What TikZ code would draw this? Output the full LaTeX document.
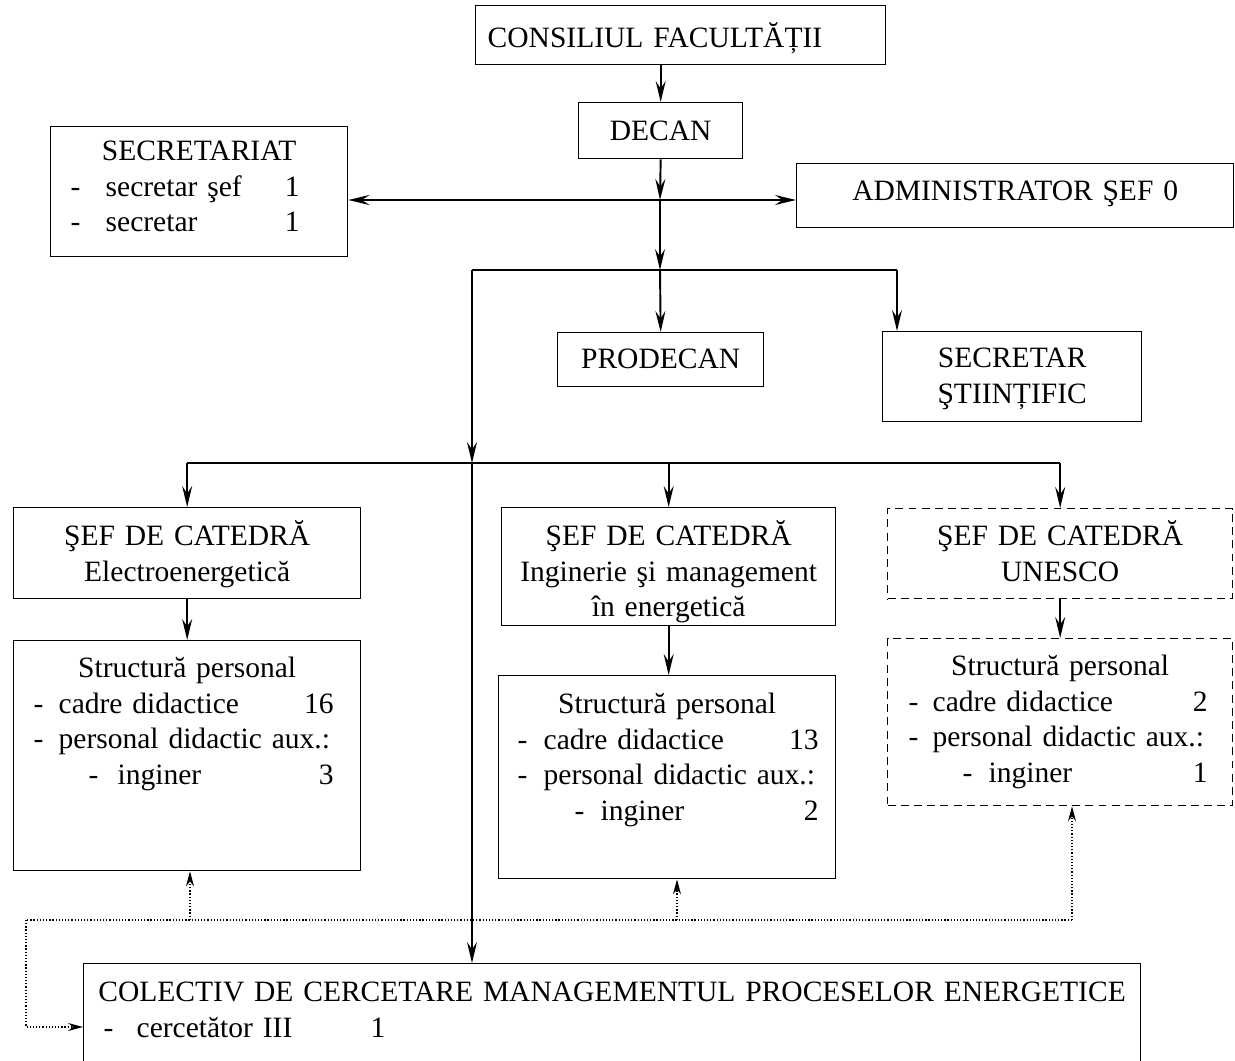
\documentclass[tikz,border=0pt]{standalone}
\usepackage{fontspec}
\setmainfont{Liberation Serif}
\usetikzlibrary{arrows.meta}

% one line of a staff list: indent, dash box, label, number, right pad
\newcommand{\lrow}[5]{\hspace*{#1}\makebox[#2][l]{-}#3\hfill#4\hspace*{#5}\null}

\begin{document}
\begin{tikzpicture}[x=0.02cm,y=-0.02cm,
  >={Stealth[length=4.2mm,width=2mm,inset=1.5mm]},
  box/.style={draw,line width=0.8pt,inner sep=0pt,anchor=north west,align=center,
    font=\fontsize{16.8}{20.2}\selectfont},
  dbox/.style={box,dash pattern=on 4.5pt off 3pt},
  conn/.style={->,line width=1.1pt},
  bus/.style={line width=1pt},
  dot/.style={line width=0.8pt,dash pattern=on 0.7pt off 1.1pt},
  dotarr/.style={dot,-{Stealth[length=3mm,width=1.6mm,inset=1mm]}}]
\useasboundingbox (0,0) rectangle (1235,1061);
\clip (0,0) rectangle (1235,1061);

% conducere
\node[box,align=left,text width=8.2cm,text height=0.84cm,text depth=0.34cm] (consiliu) at (475,5) {\hspace*{0.24cm}CONSILIUL FACULTĂȚII};
\node[box,text width=3.28cm,text height=0.76cm,text depth=0.36cm] (decan) at (578,102) {DECAN};
\node[box,text width=5.94cm,text height=0.68cm,text depth=1.92cm] (secretariat) at (50,126) {SECRETARIAT\\
  \lrow{0.4cm}{0.7cm}{secretar şef}{1}{0.96cm}\\
  \lrow{0.4cm}{0.7cm}{secretar}{1}{0.96cm}};
\node[box,text width=8.74cm,text height=0.74cm,text depth=0.54cm] (admin) at (796,163) {ADMINISTRATOR ŞEF 0};
\node[box,text width=4.12cm,text height=0.72cm,text depth=0.36cm] (prodecan) at (557,332) {PRODECAN};
\node[box,text width=5.18cm,text height=0.72cm,text depth=1.08cm] (secstiint) at (882,331) {SECRETAR\\ŞTIINȚIFIC};

% catedre
\node[box,text width=6.94cm,text height=0.76cm,text depth=1.06cm] (sefelectro) at (13,507) {ŞEF DE CATEDRĂ\\Electroenergetică};
\node[box,text width=6.68cm,text height=0.76cm,text depth=1.6cm] (sefingin) at (501,507) {ŞEF DE CATEDRĂ\\Inginerie şi management\\în energetică};
\node[dbox,text width=6.9cm,text height=0.74cm,text depth=1.06cm] (sefunesco) at (887,508) {ŞEF DE CATEDRĂ\\UNESCO};

\node[box,text width=6.94cm,text height=0.74cm,text depth=3.86cm] (stelectro) at (13,640) {Structură personal\\
  \lrow{0.4cm}{0.5cm}{cadre didactice}{16}{0.54cm}\\
  \lrow{0.4cm}{0.5cm}{personal didactic aux.:}{}{0.54cm}\\
  \lrow{1.5cm}{0.58cm}{inginer}{3}{0.54cm}};
\node[box,text width=6.74cm,text height=0.76cm,text depth=3.3cm] (stingin) at (498,675) {Structură personal\\
  \lrow{0.38cm}{0.52cm}{cadre didactice}{13}{0.34cm}\\
  \lrow{0.38cm}{0.52cm}{personal didactic aux.:}{}{0.34cm}\\
  \lrow{1.52cm}{0.52cm}{inginer}{2}{0.34cm}};
\node[dbox,text width=6.9cm,text height=0.74cm,text depth=2.6cm] (stunesco) at (887,638) {Structură personal\\
  \lrow{0.42cm}{0.48cm}{cadre didactice}{2}{0.5cm}\\
  \lrow{0.42cm}{0.48cm}{personal didactic aux.:}{}{0.5cm}\\
  \lrow{1.5cm}{0.52cm}{inginer}{1}{0.5cm}};

% cercetare
\node[box,text width=21.14cm,text height=0.76cm,text depth=2.4cm] (colectiv) at (83,963) {COLECTIV DE CERCETARE MANAGEMENTUL PROCESELOR ENERGETICE\\
  \hspace*{0.4cm}\makebox[0.66cm][l]{-}\makebox[4.68cm][l]{cercetător III}1\hspace*{\fill}\null};

\coordinate (j1) at (660,200);
\coordinate (j2) at (660,270);
\coordinate (b1w) at (472,270);
\coordinate (b1e) at (897,270);
\coordinate (j3) at (472,463);
\coordinate (dL) at (26,920);
\coordinate (dB) at (26,1027);
\coordinate (dE) at (190,920);
\coordinate (dI) at (677,920);
\coordinate (dU) at (1072,920);

\draw[conn] (consiliu.south -| decan.north) -- (decan.north);
\draw[conn] (decan.south) -- (j1);
\draw[<->,line width=1.1pt] (secretariat.east |- j1) -- (admin.west |- j1);
\draw[conn] (j1) -- (j2);
\draw[bus] (b1w) -- (b1e);
\draw[conn] (j2) -- (prodecan.north);
\draw[conn] (b1e) -- (b1e |- secstiint.north);
\draw[conn] (b1w) -- (j3);
\draw[conn] (j3) -- (j3 |- colectiv.north);

\draw[bus] (sefelectro.north |- j3) -- (sefunesco.north |- j3);
\draw[conn] (sefelectro.north |- j3) -- (sefelectro.north);
\draw[conn] (sefingin.north |- j3) -- (sefingin.north);
\draw[conn] (sefunesco.north |- j3) -- (sefunesco.north);
\draw[conn] (sefelectro.south) -- (stelectro.north);
\draw[conn] (sefingin.south) -- (sefingin.south |- stingin.north);
\draw[conn] (sefunesco.south) -- (stunesco.north);

% legaturi punctate
\draw[dot] (dU) -- (dL);
\draw[dotarr] (dL) -- (dB) -- (dB -| colectiv.west);
\draw[dotarr] (dE) -- (dE |- stelectro.south);
\draw[dotarr] (dI) -- (dI |- stingin.south);
\draw[dotarr] (dU) -- (dU |- stunesco.south);
\end{tikzpicture}
\end{document}
